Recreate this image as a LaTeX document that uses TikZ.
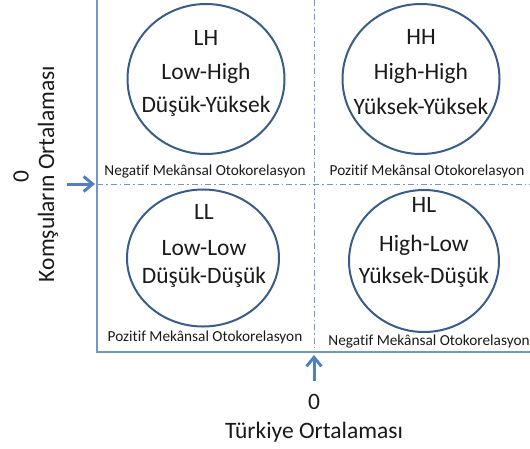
\documentclass[tikz,border=0pt]{standalone}
\usepackage{fontspec}
\setmainfont[Ligatures=NoCommon]{Carlito}
\usetikzlibrary{arrows.meta,shapes.geometric}
\definecolor{circ}{HTML}{385D8A}
\definecolor{axis}{HTML}{6F97C8}
\definecolor{arr}{HTML}{4F81BD}
\definecolor{txt}{HTML}{1A1A1A}
\begin{document}
\begin{tikzpicture}[x=1pt,y=-1pt,
  quad/.style={draw=circ,line width=2pt,ellipse,inner sep=0pt},
  big/.style={font=\fontsize{23.5}{31}\selectfont,text=txt,align=center,inner sep=0pt},
  small/.style={font=\fontsize{15.3}{18}\selectfont,text=txt,inner sep=0pt},
  axisline/.style={draw=axis,line width=1.3pt},
  dd/.style={draw=axis,line width=1pt,dash pattern=on 6pt off 3pt on 1.5pt off 3pt},
  bigarrow/.style={draw=arr,line width=3pt,-{Straight Barb[length=9pt,width=15pt,line width=3pt]}}
]
\useasboundingbox (0,0) rectangle (530,448);
% axes
\coordinate (o) at (97,352);
\coordinate (top) at (97,0);
\coordinate (right) at (530,352);
\draw[axisline] (top) -- (o) -- (right);
\coordinate (hl) at (97,184);
\coordinate (hr) at (530,184);
\coordinate (vt) at (314,0);
\coordinate (vb) at (314,352);
\draw[dd] (hl) -- (hr);
\draw[dd] (vt) -- (vb);
% circles
\node[quad,minimum width=157pt,minimum height=150pt] (LH) at (206,79) {};
\node[quad,minimum width=157pt,minimum height=150pt] (HH) at (421,79) {};
\node[quad,minimum width=152pt,minimum height=137pt] (LL) at (203,258) {};
\node[quad,minimum width=150pt,minimum height=142pt] (HL) at (424,261) {};
% circle texts
\node[big] (LH1) at (206,38) {LH};
\node[big] (LH2) at (206,73) {Low-High};
\node[big] (LH3) at (206,106) {Düşük-Yüksek};
\node[big] (HH1) at (421,37) {HH};
\node[big] (HH2) at (421,73) {High-High};
\node[big] (HH3) at (421,106) {Yüksek-Yüksek};
\node[big] (LL1) at (204,212) {LL};
\node[big] (LL2) at (204,248) {Low-Low};
\node[big] (LL3) at (204,277) {Düşük-Düşük};
\node[big] (HL1) at (424,205) {HL};
\node[big] (HL2) at (424,245) {High-Low};
\node[big] (HL3) at (424,277) {Yüksek-Düşük};
% small labels
\node[small] (n1) at (205,171) {Negatif Mekânsal Otokorelasyon};
\node[small] (p1) at (427,171) {Pozitif Mekânsal Otokorelasyon};
\node[small] (p2) at (205,337) {Pozitif Mekânsal Otokorelasyon};
\node[small] (n2) at (429,341) {Negatif Mekânsal Otokorelasyon};
% arrows
\coordinate (la) at (67,184);
\coordinate (lae) at (95,184);
\coordinate (ba) at (314,381);
\coordinate (bae) at (314,355);
\draw[bigarrow] (la) -- (lae);
\draw[bigarrow] (ba) -- (bae);
% axis labels
\node[big,rotate=90] (z1) at (21,177) {0};
\node[big,rotate=90] (yl) at (48,174) {Komşuların Ortalaması};
\node[big] (z2) at (314,402) {0};
\node[big] (xl) at (314,432) {Türkiye Ortalaması};
\end{tikzpicture}
\end{document}
